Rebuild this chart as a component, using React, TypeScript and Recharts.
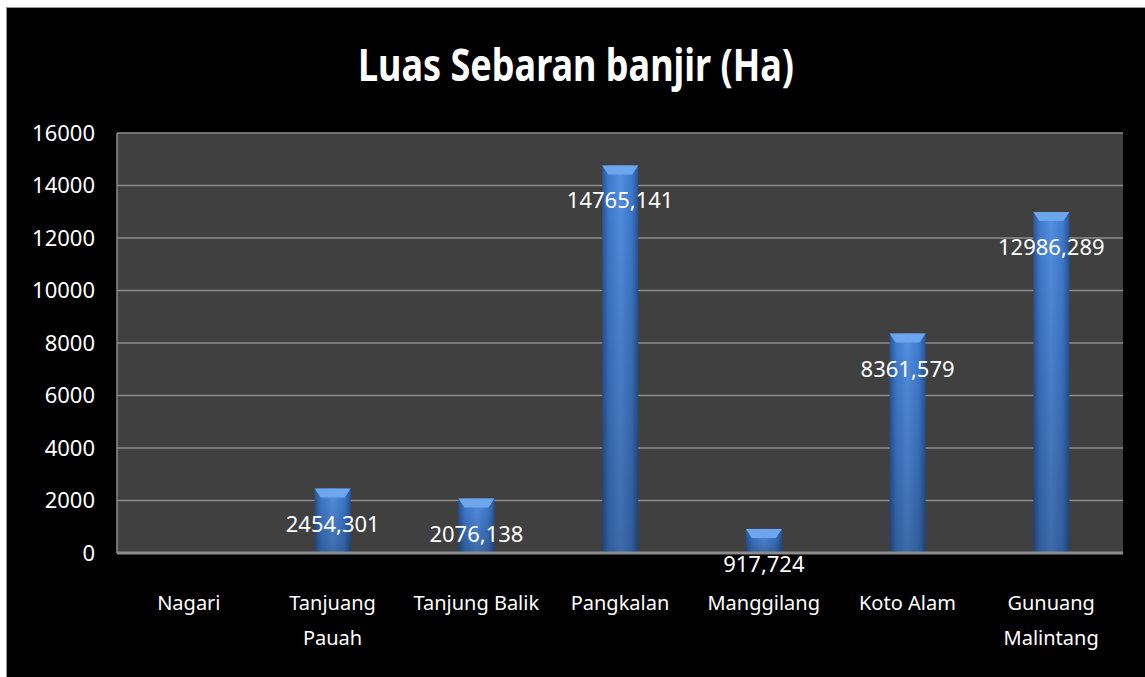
import { BarChart, Bar, CartesianGrid, XAxis, YAxis, LabelList } from "recharts"

const categories = ["Nagari", "Tanjuang Pauah", "Tanjung Balik", "Pangkalan", "Manggilang", "Koto Alam", "Gunuang Malintang"]
const luas = [null, 2454.301, 2076.138, 14765.141, 917.724, 8361.579, 12986.289]
const yTicks = [0, 2000, 4000, 6000, 8000, 10000, 12000, 14000, 16000]

const data = categories.map((name, i) => ({ name, luas: luas[i] }))

const FONT = "'Noto Sans', sans-serif"

const CylinderBar = (props: any) => {
  const { x, y, width, height } = props
  if (!height || height <= 0) return null
  const bevel = Math.min(9, height / 2)
  return (
    <g>
      <rect x={x} y={y} width={width} height={height} fill="url(#barSide)" />
      <rect x={x} y={y} width={width} height={height} fill="url(#barShade)" />
      <polygon
        points={`${x},${y} ${x + width},${y} ${x + width - 6},${y + bevel} ${x + 6},${y + bevel}`}
        fill="#6ea6ee"
      />
    </g>
  )
}

const ValueLabel = (props: any) => {
  const { x, y, width, value } = props
  if (value == null) return null
  return (
    <text
      x={x + width / 2}
      y={y + 34}
      textAnchor="middle"
      dominantBaseline="central"
      fill="#fff"
      fontSize={22}
      fontFamily={FONT}
    >
      {Number(value).toFixed(3).replace(".", ",")}
    </text>
  )
}

const CategoryTick = (props: any) => {
  const { x, y, payload } = props
  const label: string = payload.value
  const lines = label.length > 13 ? [label.slice(0, label.indexOf(" ")), label.slice(label.indexOf(" ") + 1)] : [label]
  return (
    <text x={x} y={y} textAnchor="middle" fill="#fff" fontSize={20} fontFamily={FONT}>
      {lines.map((l, i) => (
        <tspan key={i} x={x} dy={i === 0 ? 55 : 35}>
          {l}
        </tspan>
      ))}
    </text>
  )
}

export default function App() {
  return (
    <div style={{ position: "absolute", left: 0, top: 0, width: 1145, height: 677, background: "#fff" }}>
      <div
        style={{
          position: "absolute",
          left: 6,
          top: 7,
          width: 1139,
          height: 670,
          background: "#000",
          borderLeft: "1px solid #9a9a9a",
          borderTop: "1px solid #9a9a9a",
          boxSizing: "border-box",
        }}
      >
        <div
          style={{
            position: "absolute",
            left: 0,
            top: 32,
            width: 1138,
            textAlign: "center",
            color: "#fff",
            fontFamily: FONT,
            fontWeight: 700,
            fontSize: 36,
            lineHeight: "50px",
            transform: "scaleY(1.22)",
          }}
        >
          Luas Sebaran banjir (Ha)
        </div>
        <div style={{ position: "absolute", left: 0, top: 0 }}>
          <BarChart
            width={1138}
            height={669}
            data={data}
            margin={{ top: 125, right: 22, left: 0, bottom: 0 }}
            barCategoryGap={0}
          >
            <defs>
              <linearGradient id="barSide" x1="0" y1="0" x2="1" y2="0">
                <stop offset="0%" stopColor="#2a5597" />
                <stop offset="18%" stopColor="#3f7acd" />
                <stop offset="50%" stopColor="#528fe2" />
                <stop offset="82%" stopColor="#3f7acd" />
                <stop offset="100%" stopColor="#2a5597" />
              </linearGradient>
              <linearGradient id="barShade" x1="0" y1="0" x2="0" y2="1">
                <stop offset="0%" stopColor="#000" stopOpacity={0} />
                <stop offset="100%" stopColor="#000" stopOpacity={0.25} />
              </linearGradient>
            </defs>
            <CartesianGrid vertical={false} stroke="#8c8c8c" strokeWidth={1.5} fill="#404040" />
            <XAxis
              dataKey="name"
              height={124}
              axisLine={{ stroke: "#8c8c8c", strokeWidth: 3 }}
              tickLine={false}
              tickSize={0}
              interval={0}
              tick={<CategoryTick />}
            />
            <YAxis
              width={110}
              domain={[0, 16000]}
              ticks={yTicks}
              axisLine={{ stroke: "#8c8c8c", strokeWidth: 1.5 }}
              tickLine={false}
              tickSize={0}
              tickMargin={22}
              tick={{ fill: "#fff", fontSize: 22, fontFamily: FONT }}
            />
            <Bar dataKey="luas" barSize={36} shape={<CylinderBar />} isAnimationActive={false}>
              <LabelList dataKey="luas" content={<ValueLabel />} />
            </Bar>
          </BarChart>
        </div>
      </div>
    </div>
  )
}
